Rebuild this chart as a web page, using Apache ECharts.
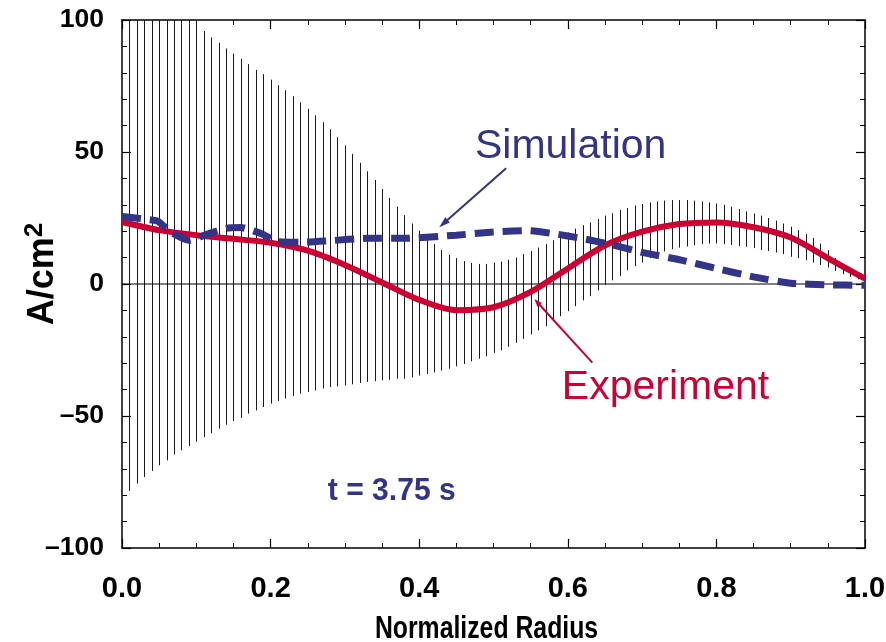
<!DOCTYPE html>
<html><head><meta charset="utf-8">
<script src="https://cdn.jsdelivr.net/npm/echarts@6/dist/echarts.min.js"></script>
<style>html,body{margin:0;padding:0;background:#fff}#c{width:886px;height:642px}</style>
</head><body><div id="c"></div>
<script>
// ---- data ----
const radius = [0.01,0.02,0.03,0.04,0.05,0.06,0.07,0.08,0.09,0.10,
  0.11,0.12,0.13,0.14,0.15,0.16,0.17,0.18,0.19,0.20,
  0.21,0.22,0.23,0.24,0.25,0.26,0.27,0.28,0.29,0.30,
  0.31,0.32,0.33,0.34,0.35,0.36,0.37,0.38,0.39,0.40,
  0.41,0.42,0.43,0.44,0.45,0.46,0.47,0.48,0.49,0.50,
  0.51,0.52,0.53,0.54,0.55,0.56,0.57,0.58,0.59,0.60,
  0.61,0.62,0.63,0.64,0.65,0.66,0.67,0.68,0.69,0.70,
  0.71,0.72,0.73,0.74,0.75,0.76,0.77,0.78,0.79,0.80,
  0.81,0.82,0.83,0.84,0.85,0.86,0.87,0.88,0.89,0.90,
  0.91,0.92,0.93,0.94,0.95,0.96,0.97,0.98,0.99];
const errUpper = [123,120.5,118,115.5,113,110.5,108,105.5,103,100.5,
  95.8,93.4,91.4,89.2,87.3,85.3,83.3,81.1,79.5,77.4,
  75.3,73.4,71.1,68.8,66.4,63.9,61.3,58.6,55.6,52.5,
  49.3,45.9,42.7,39.4,36.0,32.6,29.3,26.1,22.9,20.2,
  17.4,15.1,12.9,11.0,9.8,8.7,8.0,7.6,7.6,8.0,
  8.5,9.2,10.0,11.3,12.5,13.8,15.1,16.6,18.3,19.5,
  21.0,22.3,23.3,24.6,25.9,26.8,28.0,28.8,29.7,30.3,
  30.9,31.3,31.6,31.8,31.8,31.8,31.6,31.3,30.9,30.5,
  30.0,29.3,28.4,27.5,26.7,25.9,25.0,24.0,22.9,21.7,
  20.4,18.9,17.4,15.3,12.8,9.8,7.2,5.6,4.0];
const errLower = [-78.4,-75.6,-73.1,-70.8,-68.7,-66.8,-64.6,-63.0,-61.4,-59.7,
  -58.0,-56.5,-54.8,-53.3,-51.9,-50.7,-49.1,-47.9,-46.6,-45.3,
  -44.3,-43.4,-42.4,-41.5,-40.9,-40.3,-39.6,-39.0,-38.8,-38.4,
  -38.0,-37.5,-37.1,-36.8,-36.5,-36.3,-35.9,-35.9,-35.4,-34.7,
  -34.1,-33.5,-32.8,-32.1,-31.2,-30.3,-29.3,-28.3,-27.4,-26.1,
  -25.1,-23.8,-22.3,-20.8,-19.1,-17.6,-16.0,-14.1,-12.2,-10.3,
  -8.4,-6.2,-4.6,-2.4,-0.4,1.4,3.0,5.2,6.8,8.1,
  9.8,11.0,12.3,13.2,13.8,14.2,14.7,15.1,15.3,15.3,
  15.1,14.8,14.4,14.1,13.6,12.9,12.5,11.9,11.3,10.3,
  9.8,9.0,8.1,7.2,6.2,4.9,3.7,2.7,1.8];
const expX = [0.00,0.05,0.10,0.15,0.20,0.25,0.30,0.35,0.40,0.45,0.50,0.55,0.60,0.65,0.70,0.75,0.80,0.85,0.90,0.95,1.00];
const expY = [23.5,20.4,18.5,17.1,15.6,12.6,7.2,0.6,-6.0,-9.9,-8.8,-3.0,5.9,14.6,19.8,22.7,23.3,21.5,17.6,9.8,2.0];
const simX = [0.00,0.03,0.048,0.065,0.09,0.115,0.14,0.16,0.175,0.19,0.21,0.24,0.28,0.33,0.38,0.45,0.50,0.545,0.58,0.62,0.66,0.70,0.75,0.80,0.85,0.90,0.95,1.00];
const simY = [25.6,24.6,23.8,19.8,16.6,18.9,21.1,21.4,20.3,18.8,16.0,15.8,16.4,17.3,17.3,18.5,19.7,20.2,19.1,17.2,14.8,12.0,9.2,5.9,2.7,0.3,-0.3,-0.5];
const xTickValues = [0,0.2,0.4,0.6,0.8,1.0];
const xTickLabels = ['0.0','0.2','0.4','0.6','0.8','1.0'];
const yTickValues = [-100,-50,0,50,100];
const yTickLabels = ['\u2013100','\u201350','0','50','100'];

// ---- chart ----
const NAVY = '#333388', RED = '#cc0033';
const SANS = "'Liberation Sans',Arial,Helvetica,sans-serif";
const chart = echarts.init(document.getElementById('c'), null, {renderer:'canvas'});

function labelFor(values, labels){
  return function(v){
    for (let i=0;i<values.length;i++) if (Math.abs(values[i]-v)<1e-9) return labels[i];
    return '';
  };
}
function axisParts(split){
  return {
    axisLine:{show:true, onZero:false, lineStyle:{color:'#000', width:1.5}},
    axisTick:{show:true, inside:true, length:9, lineStyle:{color:'#000', width:1.2}},
    minorTick:{show:true, splitNumber:split, length:5, lineStyle:{color:'#000', width:1}},
    splitLine:{show:false}, minorSplitLine:{show:false}
  };
}

const errData = radius.map((r,i)=>[r, errLower[i], errUpper[i]]);
const expData = expX.map((x,i)=>[x, expY[i]]);
const simData = simX.map((x,i)=>[x, simY[i]]);

chart.setOption({
  animation:false,
  backgroundColor:'#fff',
  grid:{left:122, right:21, top:20, bottom:94, outerBoundsMode:'none', containLabel:false},
  xAxis:[
    Object.assign({type:'value', min:0, max:1, interval:0.2, position:'bottom',
      axisLabel:{show:true, margin:26, formatter:labelFor(xTickValues,xTickLabels),
        color:'#000', fontFamily:SANS, fontWeight:'bold', fontSize:29}
    }, axisParts(4)),
    Object.assign({type:'value', min:0, max:1, interval:0.2, position:'top', axisLabel:{show:false}}, axisParts(4))
  ],
  yAxis:[
    Object.assign({type:'value', min:-100, max:100, interval:50, position:'left',
      axisLabel:{show:true, margin:18, formatter:labelFor(yTickValues,yTickLabels),
        color:'#000', fontFamily:SANS, fontWeight:'bold', fontSize:26.5}
    }, axisParts(5)),
    Object.assign({type:'value', min:-100, max:100, interval:50, position:'right', axisLabel:{show:false}}, axisParts(5))
  ],
  series:[
    {type:'custom', name:'Error', data:errData, z:2, clip:true,
      renderItem:function(params, api){
        const x = api.value(0), lo = api.value(1), hi = api.value(2);
        const p1 = api.coord([x, lo]), p2 = api.coord([x, hi]);
        const cs = params.coordSys;
        const top = Math.max(p2[1], cs.y), bot = Math.min(p1[1], cs.y + cs.height);
        const px = Math.round(p1[0]) + 0.5;
        return {type:'line', shape:{x1:px, y1:bot, x2:px, y2:top}, style:{stroke:'#1a1a1a', lineWidth:1}};
      }},
    {type:'line', name:'Zero', data:[[0,0],[1,0]], symbol:'none', z:3, silent:true,
      lineStyle:{color:'#000', width:1}},
    {type:'line', name:'Experiment', data:expData, symbol:'none', smooth:0.3, z:4,
      lineStyle:{color:RED, width:6}},
    {type:'line', name:'Simulation', data:simData, symbol:'none', smooth:0.2, z:5,
      lineStyle:{color:NAVY, width:7, type:[19,9], cap:'butt'}}
  ]
});

function px(pt){ return chart.convertToPixel({gridIndex:0}, pt); }
function arrow(from, to, color, w, headLen, headHalf){
  const a = px(from), b = px(to);
  const dx = b[0]-a[0], dy = b[1]-a[1], L = Math.hypot(dx,dy);
  const ux = dx/L, uy = dy/L;
  const bx = b[0]-ux*headLen, by = b[1]-uy*headLen;
  return [
    {type:'line', shape:{x1:a[0], y1:a[1], x2:bx+ux*2, y2:by+uy*2}, style:{stroke:color, lineWidth:w}, z:10},
    {type:'polygon', shape:{points:[[b[0],b[1]],[bx-uy*headHalf, by+ux*headHalf],[bx+uy*headHalf, by-ux*headHalf]]},
      style:{fill:color}, z:10}
  ];
}
function label(text, at, color, size, weight, sx){
  const p = px(at);
  return {type:'text', x:p[0], y:p[1], z:10, scaleX:sx || 1,
    style:{text:text, fill:color, fontFamily:SANS, fontSize:size, fontWeight:weight, align:'left', verticalAlign:'middle'}};
}
const grid = chart.getModel().getComponent('grid', 0).coordinateSystem.getRect();
chart.setOption({graphic:[
  label('Simulation', [0.475, 52.0], NAVY, 41, 'normal'),
  label('Experiment', [0.592, -39.4], RED, 41, 'normal'),
  label('t = 3.75 s', [0.277, -78.5], NAVY, 32, 'bold', 0.94),
  ...arrow([0.517, 43.8], [0.427, 21.5], NAVY, 2, 11, 3.5),
  ...arrow([0.633, -29.8], [0.555, -5.7], RED, 2, 8, 3),
  // axis titles
  {type:'text', x:grid.x + grid.width/2 - 7, y:629, scaleX:0.8, z:10,
    style:{text:'Normalized Radius', fill:'#000', fontFamily:SANS, fontSize:31, fontWeight:'bold', align:'center', verticalAlign:'middle'}},
  {type:'text', x:43, y:grid.y + grid.height/2 - 10, rotation:Math.PI/2, z:10,
    style:{text:'{a|A/cm}{s|2}', fill:'#000', align:'center', verticalAlign:'middle',
      rich:{a:{fontFamily:SANS, fontWeight:'bold', fontSize:36, fill:'#000', color:'#000'},
            s:{fontFamily:SANS, fontWeight:'bold', fontSize:26, fill:'#000', color:'#000', padding:[0,0,16,0]}}}}
]});
</script></body></html>
